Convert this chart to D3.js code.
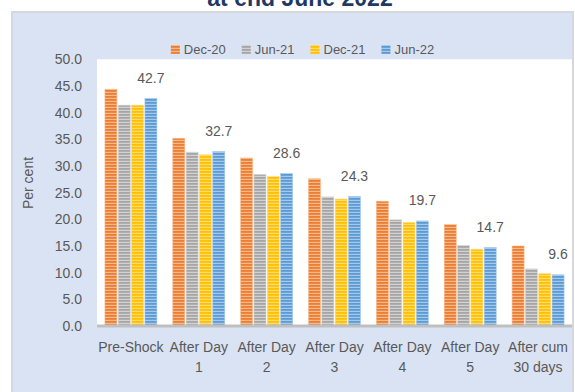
<!DOCTYPE html>
<html>
<head>
<meta charset="utf-8">
<script src="https://cdn.jsdelivr.net/npm/d3@7"></script>
<style>
  html, body { margin: 0; padding: 0; background: #ffffff; }
  svg { display: block; font-family: "Liberation Sans", Arial, sans-serif; }
</style>
</head>
<body>
<svg id="chart" width="575" height="392"></svg>
<script>
// Categories along the x axis (each may wrap onto two lines)
const categories = ["Pre-Shock", "After Day 1", "After Day 2", "After Day 3", "After Day 4", "After Day 5", "After cum 30 days"];
const categoryLines = [["Pre-Shock"], ["After Day", "1"], ["After Day", "2"], ["After Day", "3"], ["After Day", "4"], ["After Day", "5"], ["After cum", "30 days"]];

// Series (per cent)
const seriesNames = ["Dec-20", "Jun-21", "Dec-21", "Jun-22"];
const dec20 = [44.4, 35.2, 31.5, 27.6, 23.4, 19.0, 15.0];
const jun21 = [41.4, 32.6, 28.4, 24.2, 19.9, 15.1, 10.7];
const dec21 = [41.4, 32.1, 28.0, 23.8, 19.4, 14.4, 9.8];
const jun22 = [42.7, 32.7, 28.6, 24.3, 19.7, 14.7, 9.6];
const seriesValues = [dec20, jun21, dec21, jun22];

// Y axis ticks
const yTicks = [0, 5, 10, 15, 20, 25, 30, 35, 40, 45, 50];

// Styling
const mainColors  = ["#ED7D31", "#A5A5A5", "#FFC000", "#5B9BD5"];
const lightColors = ["#F6B98E", "#D2D2D2", "#FFDC73", "#A6C8EA"];
const textColor = "#595959";

const svg = d3.select("#chart");
const W = 575, H = 392;
const plot = { left: 97, right: 572, top: 59.3, bottom: 326 };

// Striped fills for the bars
const defs = svg.append("defs");
seriesNames.forEach((name, i) => {
  const p = defs.append("pattern")
    .attr("id", "stripe" + i)
    .attr("patternUnits", "userSpaceOnUse")
    .attr("width", 8).attr("height", 3);
  p.append("rect").attr("width", 8).attr("height", 3).attr("fill", mainColors[i]);
  p.append("rect").attr("y", 1.8).attr("width", 8).attr("height", 1.2).attr("fill", lightColors[i]);
});

// Title (top edge of the figure)
svg.append("text")
  .attr("x", 300).attr("y", 6)
  .attr("text-anchor", "middle")
  .attr("font-size", 23).attr("font-weight", "bold")
  .attr("fill", "#1F3864")
  .text("at end June 2022");

// Chart panel
svg.append("rect")
  .attr("x", 12).attr("y", 12)
  .attr("width", 561).attr("height", H)
  .attr("fill", "#DAE3F3")
  .attr("stroke", "#D5D8DC").attr("stroke-width", 2);

// Plot area
svg.append("rect")
  .attr("x", plot.left).attr("y", plot.top)
  .attr("width", plot.right - plot.left).attr("height", plot.bottom - plot.top)
  .attr("fill", "#ffffff");

// Scales
const x0 = d3.scaleBand().domain(categories).range([plot.left, plot.right])
  .paddingInner(0.234).paddingOuter(0.117);
const x1 = d3.scaleBand().domain(seriesNames).range([0, x0.bandwidth()])
  .paddingInner(0.1);
const y = d3.scaleLinear().domain([0, 50]).range([plot.bottom, plot.top]);

// Bars
seriesNames.forEach((name, si) => {
  svg.append("g").selectAll("rect")
    .data(seriesValues[si])
    .join("rect")
    .attr("x", (d, i) => x0(categories[i]) + x1(name))
    .attr("y", d => y(d))
    .attr("width", x1.bandwidth())
    .attr("height", d => y(0) - y(d))
    .attr("fill", `url(#stripe${si})`)
    .attr("stroke", lightColors[si]).attr("stroke-width", 0.6);
});

// Value labels for the latest series
svg.append("g").selectAll("text")
  .data(jun22)
  .join("text")
  .attr("x", (d, i) => x0(categories[i]) + x1("Jun-22") + x1.bandwidth() / 2)
  .attr("y", d => y(d) - 15.5)
  .attr("text-anchor", "middle")
  .attr("font-size", 14).attr("fill", textColor)
  .text(d => d.toFixed(1));

// Y axis
const yAxis = d3.axisLeft(y).tickValues(yTicks).tickFormat(d3.format(".1f")).tickSize(0).tickPadding(15);
const gy = svg.append("g").attr("transform", `translate(${plot.left},0)`).call(yAxis);
gy.select(".domain").remove();
gy.selectAll("text").attr("font-size", 14).attr("fill", textColor)
  .attr("font-family", "Liberation Sans, Arial, sans-serif");

// X axis line
const xAxis = d3.axisBottom(x0).tickSize(0).tickFormat("");
const gx = svg.append("g").attr("transform", `translate(0,${plot.bottom})`).call(xAxis);
gx.select(".domain").attr("stroke", "#BFBFBF").attr("stroke-width", 3)
  .attr("d", `M${plot.left},0H${plot.right}`);

// Category labels
categories.forEach((c, i) => {
  const t = svg.append("text")
    .attr("x", x0(c) + x0.bandwidth() / 2)
    .attr("text-anchor", "middle")
    .attr("font-size", 14).attr("fill", textColor);
  categoryLines[i].forEach((line, li) => {
    t.append("tspan").attr("x", x0(c) + x0.bandwidth() / 2).attr("y", 352 + li * 20).text(line);
  });
});

// Y axis title
svg.append("text")
  .attr("transform", "translate(33,183) rotate(-90)")
  .attr("text-anchor", "middle")
  .attr("font-size", 14).attr("fill", textColor)
  .text("Per cent");

// Legend
const legend = svg.append("g");
let lx = 0;
seriesNames.forEach((name, i) => {
  const g = legend.append("g").attr("transform", `translate(${lx},0)`);
  g.append("rect").attr("x", 0).attr("y", -4).attr("width", 9).attr("height", 9)
    .attr("fill", `url(#stripe${i})`);
  const t = g.append("text").attr("x", 13).attr("y", 5)
    .attr("font-size", 13).attr("fill", textColor).text(name);
  lx += 13 + t.node().getComputedTextLength() + 16;
});
const legendWidth = lx - 16;
legend.attr("transform", `translate(${302.5 - legendWidth / 2},49)`);
</script>
</body>
</html>
